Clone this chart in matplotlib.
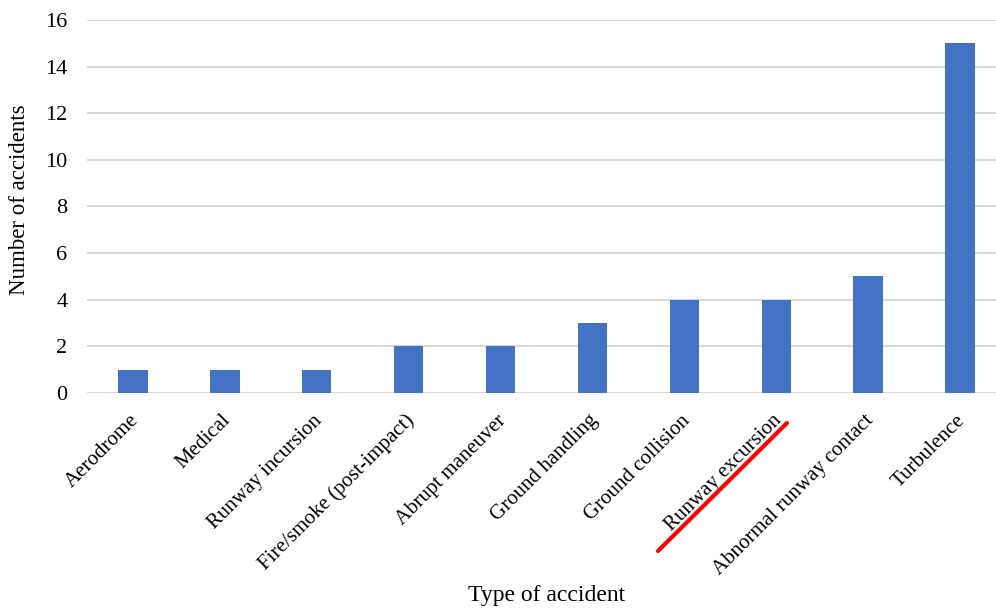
import matplotlib.pyplot as plt
from matplotlib.lines import Line2D
from matplotlib.transforms import ScaledTranslation

plt.rcParams['font.family'] = ['Liberation Serif', 'DejaVu Serif']

accident_types = [
    'Aerodrome', 'Medical', 'Runway incursion', 'Fire/smoke (post-impact)',
    'Abrupt maneuver', 'Ground handling', 'Ground collision',
    'Runway excursion', 'Abnormal runway contact', 'Turbulence',
]
counts = [1, 1, 1, 2, 2, 3, 4, 4, 5, 15]
y_ticks = [0, 2, 4, 6, 8, 10, 12, 14, 16]

BAR_COLOR = '#4472C4'
GRID_COLOR = '#d9d9d9'

fig = plt.figure(figsize=(9.96, 6.12), dpi=100)
ax = fig.add_axes([87 / 996, 219 / 612, 919 / 996, 373 / 612])

x = range(len(accident_types))
ax.bar(x, counts, width=0.32, color=BAR_COLOR, zorder=3)

ax.set_xlim(-0.5, len(accident_types) - 0.5)
ax.set_ylim(0, 16)
ax.set_yticks(y_ticks)
ax.yaxis.grid(True, color=GRID_COLOR, linewidth=1.5, zorder=0)
for side in ['top', 'right', 'left', 'bottom']:
    ax.spines[side].set_visible(False)
ax.tick_params(axis='y', length=0, labelsize=16, pad=14)
ax.tick_params(axis='x', length=0, labelsize=15, pad=13)

ax.set_xticks(list(x))
ax.set_xticklabels(accident_types, rotation=45, ha='right', rotation_mode='anchor')
# nudge the slanted labels a little to the left of the bar centres
shift = ScaledTranslation(-4 / 100, 0, fig.dpi_scale_trans)
for lbl in ax.get_xticklabels():
    lbl.set_transform(lbl.get_transform() + shift)

ax.set_ylabel('Number of accidents', fontsize=16.5, va='center')
ax.yaxis.set_label_coords((20 - 87) / 919, (393 - 200) / 373)
ax.set_xlabel('Type of accident', fontsize=17, va='center')
ax.xaxis.set_label_coords(0.5, (393 - 595) / 373)

# red underline marking the runway excursion category
fig.add_artist(Line2D([658 / 996, 787 / 996], [1 - 551 / 612, 1 - 423 / 612],
                      transform=fig.transFigure, color='#ff0000', linewidth=3,
                      solid_capstyle='round'))

fig.savefig('out.png', dpi=100)
